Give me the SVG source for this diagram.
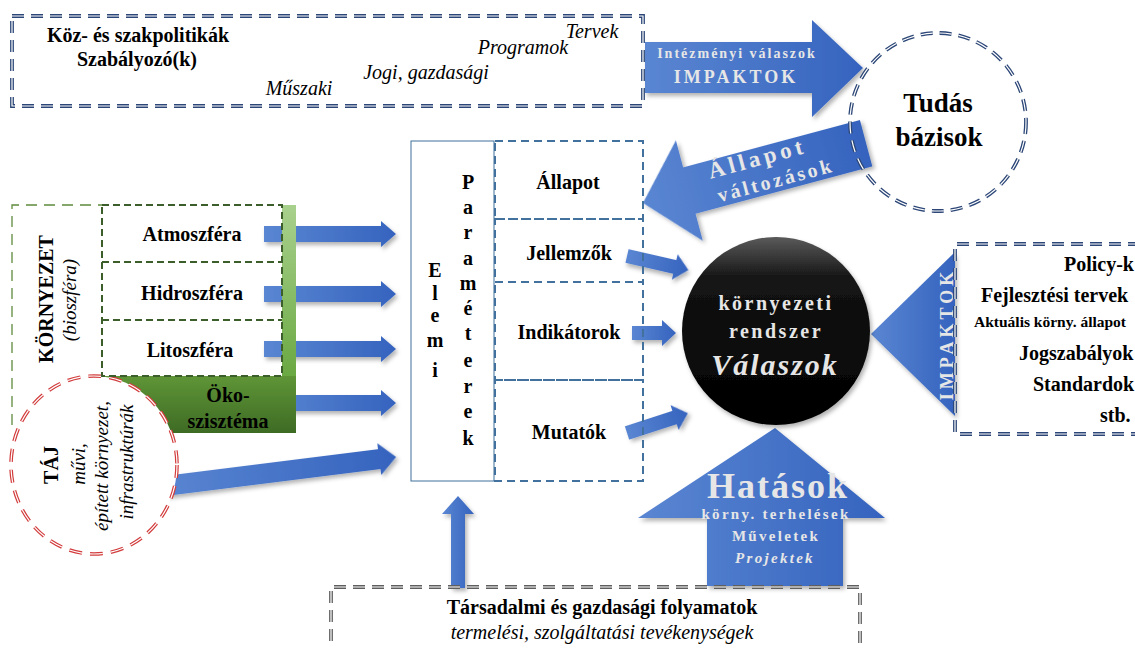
<svg xmlns="http://www.w3.org/2000/svg" width="1135" height="648" viewBox="0 0 1135 648" font-family="'Liberation Serif', 'DejaVu Serif', serif">
<defs>
<style>
text{font-family:'Liberation Serif','DejaVu Serif',serif;fill:#000}
.b{font-weight:bold}
.i{font-style:italic}
.c{text-anchor:middle}
.arw{fill:url(#gBlue);filter:url(#sh)}
.lt{fill:#e6e6e6;font-weight:bold}
.dOutN{fill:none;stroke:#2c4777;stroke-width:3.8;stroke-dasharray:12 7}
.dIn{fill:none;stroke:#fff;stroke-width:1.2;stroke-dasharray:12 7}
.dBlue{fill:none;stroke:#41719c;stroke-width:2;stroke-dasharray:8 5}
.dGreen{fill:none;stroke:#3b5e2b;stroke-width:2;stroke-dasharray:7 4}
.dGreenL{fill:none;stroke:#5d8a3c;stroke-width:1.3;stroke-dasharray:11 7}
.dRed{fill:#fff;stroke:#d23c3c;stroke-width:3.6;stroke-dasharray:13 8}
.dRedIn{fill:none;stroke:#fff;stroke-width:1.2;stroke-dasharray:13 8}
.dGrey{fill:none;stroke:#5f5f5f;stroke-width:3.8;stroke-dasharray:12 7}
</style>
<linearGradient id="gBlue" x1="0" y1="0" x2="1" y2="0">
<stop offset="0" stop-color="#5a86d2"/>
<stop offset="1" stop-color="#3563be"/>
</linearGradient>
<linearGradient id="gLight" x1="0" y1="0" x2="0" y2="1">
<stop offset="0" stop-color="#a9d18e"/>
<stop offset="1" stop-color="#6aa842"/>
</linearGradient>
<linearGradient id="gDark" x1="0" y1="0" x2="0" y2="1">
<stop offset="0" stop-color="#5f9537"/>
<stop offset="1" stop-color="#3e6b24"/>
</linearGradient>
<linearGradient id="gBlack" x1="0" y1="0" x2="0" y2="1">
<stop offset="0" stop-color="#5a5a5a"/>
<stop offset="0.22" stop-color="#141414"/>
<stop offset="1" stop-color="#000"/>
</linearGradient>
<filter id="sh" x="-10%" y="-10%" width="130%" height="140%">
<feDropShadow dx="2" dy="3" stdDeviation="2" flood-color="#000" flood-opacity="0.3"/>
</filter>
</defs>
<rect width="1135" height="648" fill="#fff"/>

<g id="policies">
<rect x="12" y="16" width="631" height="90" class="dOutN"/>
<rect x="12" y="16" width="631" height="90" class="dIn"/>
<text x="138" y="42" class="b c" font-size="20">Köz- és szakpolitikák</text>
<text x="137" y="66" class="b c" font-size="20">Szabályozó(k)</text>
<text x="592" y="38" class="i c" font-size="20">Tervek</text>
<text x="523" y="54" class="i c" font-size="20">Programok</text>
<text x="426" y="79" class="i c" font-size="20">Jogi, gazdasági</text>
<text x="299" y="95" class="i c" font-size="20">Műszaki</text>
</g>

<g id="connectors">
<path class="arw" d="M645,42 H812 V20 L863,68 L812,117 V93 H645 Z"/>
<text x="737" y="58" class="lt c" font-size="14" letter-spacing="2">Intézményi válaszok</text>
<text x="736" y="83" class="lt c" font-size="18" letter-spacing="3">IMPAKTOK</text>
<g transform="translate(643,203) rotate(-15)">
<path class="arw" d="M0,0 L48,-52 L48,-24 L231,-24 L231,24 L48,24 L48,52 Z"/>
<text x="122" y="-6" class="lt c" font-size="23" letter-spacing="4">Állapot</text>
<text x="134" y="19" class="lt c" font-size="20" letter-spacing="3">változások</text>
</g>
<path class="arw" d="M264,226 H381 V221 L396,234 L381,247 V242 H264 Z"/>
<path class="arw" d="M264,286 H381 V281 L396,294 L381,307 V302 H264 Z"/>
<path class="arw" d="M264,341 H381 V336 L396,349 L381,362 V357 H264 Z"/>
<path class="arw" d="M264,395 H381 V390 L396,403 L381,416 V411 H264 Z"/>
<g transform="translate(157,487) rotate(-7.15)">
<path class="arw" d="M0,-10 H224 V-16 L241,0 L224,16 V10 H0 Z"/>
</g>
<g transform="translate(627,256) rotate(12.9)">
<path class="arw" d="M0,-7 H49 V-13 L63,0 L49,13 V7 H0 Z"/>
</g>
<path class="arw" d="M632,326 H662 V320 L676,333 L662,346 V340 H632 Z"/>
<g transform="translate(627,433) rotate(-18)">
<path class="arw" d="M0,-7 H50 V-13 L64,0 L50,13 V7 H0 Z"/>
</g>
<path class="arw" d="M451,588 V514 H442 L458,496 L474,514 H465 V588 Z"/>
<path class="arw" d="M871,334 L955,252 L955,416 Z"/>
<text transform="translate(953,334) rotate(-90)" class="lt c" font-size="18" letter-spacing="4">IMPAKTOK</text>
</g>

<g id="tudas">
<ellipse cx="938" cy="122" rx="88" ry="89" class="dOutN"/>
<ellipse cx="938" cy="122" rx="88" ry="89" class="dIn"/>
<text x="938" y="112" class="b c" font-size="27">Tudás</text>
<text x="939" y="146" class="b c" font-size="27">bázisok</text>
</g>

<g id="kornyezet">
<rect x="282" y="205" width="14" height="172" fill="url(#gLight)"/>
<rect x="102" y="376" width="194" height="57" fill="url(#gDark)"/>
<path d="M12,425 V205 H102" class="dGreenL"/>
<text transform="translate(53,299) rotate(-90)" class="b c" font-size="20">KÖRNYEZET</text>
<text transform="translate(76,300) rotate(-90)" class="i c" font-size="19">(bioszféra)</text>
</g>

<g id="taj">
<ellipse cx="94" cy="465" rx="83" ry="89" class="dRed"/>
<ellipse cx="94" cy="465" rx="83" ry="89" class="dRedIn"/>
<text transform="translate(58,465) rotate(-90)" class="b c" font-size="20">TÁJ</text>
<text transform="translate(85,464) rotate(-90)" class="i c" font-size="19">művi,</text>
<text transform="translate(108,466) rotate(-90)" class="i c" font-size="19">épített környezet,</text>
<text transform="translate(133,462) rotate(-90)" class="i c" font-size="19">infrastruktúrák</text>
</g>

<g id="szferak">
<rect x="102" y="205" width="180" height="171" class="dGreen"/>
<line x1="102" y1="262" x2="282" y2="262" class="dGreen"/>
<line x1="102" y1="320" x2="282" y2="320" class="dGreen"/>
<text x="192" y="241" class="b c" font-size="20">Atmoszféra</text>
<text x="192" y="300" class="b c" font-size="20">Hidroszféra</text>
<text x="190" y="357" class="b c" font-size="20">Litoszféra</text>
<text x="228" y="402" class="b c" font-size="20">Öko-</text>
<text x="228" y="428" class="b c" font-size="20">szisztéma</text>
</g>

<g id="elemi">
<rect x="411" y="141" width="83" height="340" fill="#fff" stroke="#41719c" stroke-width="1"/>
<text class="b c" font-size="20">
<tspan x="435" y="277">E</tspan><tspan x="435" y="300">l</tspan><tspan x="435" y="322">e</tspan><tspan x="435" y="347">m</tspan><tspan x="435" y="377">i</tspan>
</text>
<text class="b c" font-size="20">
<tspan x="468" y="189">P</tspan><tspan x="468" y="214">a</tspan><tspan x="468" y="239">r</tspan><tspan x="468" y="265">a</tspan><tspan x="468" y="290">m</tspan><tspan x="468" y="315">é</tspan><tspan x="468" y="340">t</tspan><tspan x="468" y="367">e</tspan><tspan x="468" y="393">r</tspan><tspan x="468" y="418">e</tspan><tspan x="468" y="445">k</tspan>
</text>
</g>

<g id="allapot">
<rect x="495" y="141" width="148" height="78" class="dBlue"/>
<text x="568" y="189" class="b c" font-size="20">Állapot</text>
</g>
<g id="jellemzok">
<rect x="495" y="219" width="148" height="63" class="dBlue"/>
<text x="569" y="260" class="b c" font-size="20">Jellemzők</text>
</g>
<g id="indikatorok">
<rect x="495" y="282" width="148" height="98" class="dBlue"/>
<text x="569" y="339" class="b c" font-size="20">Indikátorok</text>
</g>
<g id="mutatok">
<rect x="495" y="380" width="148" height="101" class="dBlue"/>
<text x="569" y="439" class="b c" font-size="20">Mutatók</text>
</g>

<g id="hatasok">
<path class="arw" d="M775,428 L885,518 L843,518 L843,586 L707,586 L707,518 L638,518 Z"/>
<text x="778" y="498" class="lt c" font-size="36" letter-spacing="2" fill="#dcdcdc">Hatások</text>
<text x="776" y="519" class="lt c" font-size="15" letter-spacing="2.3">körny. terhelések</text>
<text x="776" y="541" class="lt c" font-size="15" letter-spacing="2.3">Műveletek</text>
<text x="775" y="563" class="lt c i" font-size="15" letter-spacing="2.3">Projektek</text>
</g>

<g id="valaszok">
<circle cx="776" cy="331" r="94" fill="url(#gBlack)" filter="url(#sh)"/>
<text x="776" y="310" class="lt c" font-size="20" letter-spacing="2.5">környezeti</text>
<text x="776" y="338" class="lt c" font-size="20" letter-spacing="2.5">rendszer</text>
<text x="775" y="375" class="lt c i" font-size="30" letter-spacing="2">Válaszok</text>
</g>

<g id="policyk">
<path d="M1140,244 H955 V434 H1140" class="dOutN"/>
<path d="M1140,244 H955 V434 H1140" class="dIn"/>
<text x="1064" y="271" class="b" font-size="20">Policy-k</text>
<text x="981" y="302" class="b" font-size="20">Fejlesztési tervek</text>
<text x="974" y="327" class="b" font-size="15.5">Aktuális körny. állapot</text>
<text x="1019" y="360" class="b" font-size="20">Jogszabályok</text>
<text x="1033" y="391" class="b" font-size="20">Standardok</text>
<text x="1100" y="422" class="b" font-size="20">stb.</text>
</g>

<g id="tarsadalom">
<path d="M331,660 V587 H860 V660" class="dGrey"/>
<path d="M331,660 V587 H860 V660" class="dIn"/>
<text x="602" y="614" class="b c" font-size="20">Társadalmi és gazdasági folyamatok</text>
<text x="602" y="639" class="i c" font-size="20">termelési, szolgáltatási tevékenységek</text>
</g>
</svg>
